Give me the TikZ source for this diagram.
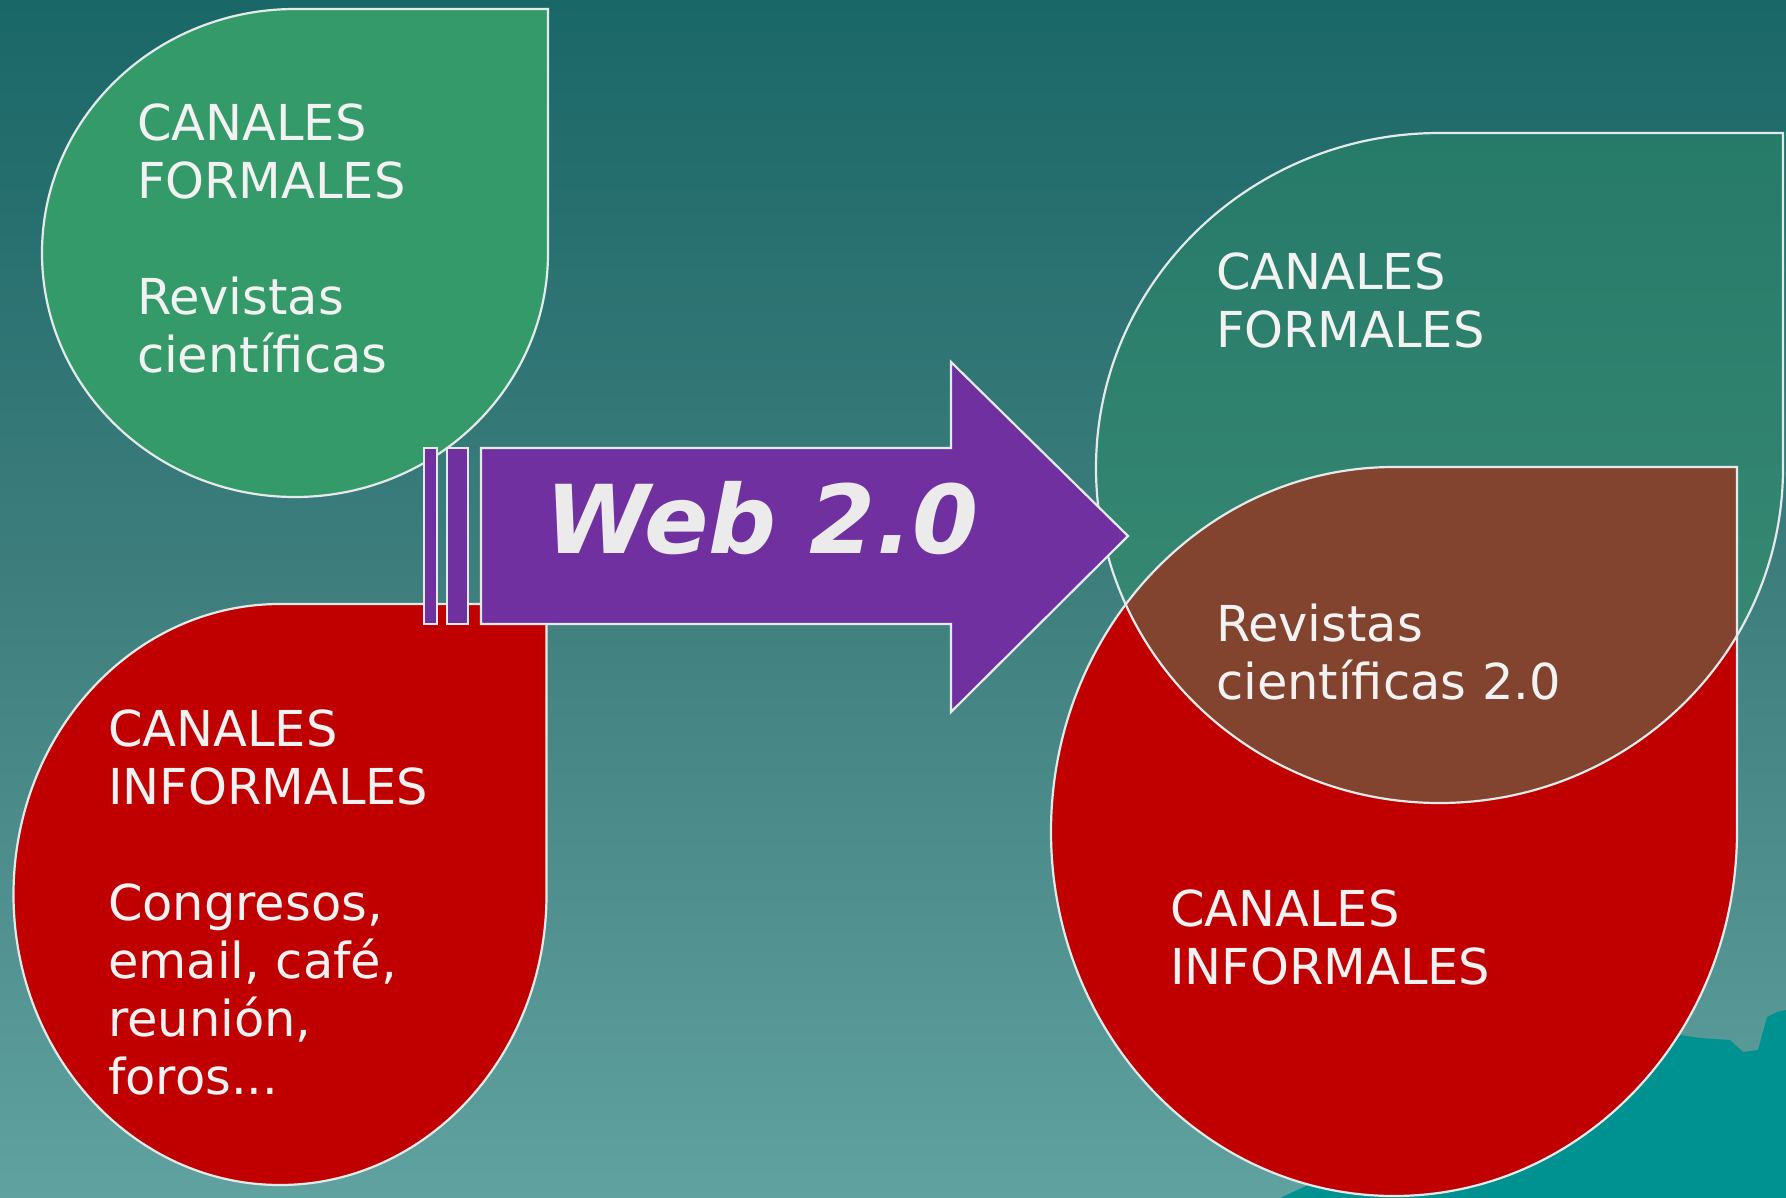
\documentclass[tikz,border=0pt]{standalone}
\usepackage{fontspec}
\setmainfont{DejaVu Sans}
\definecolor{bgtop}{HTML}{1A6767}
\definecolor{bgmid}{HTML}{3F7F7E}
\definecolor{bgbot}{HTML}{60A2A0}
\definecolor{greenL}{HTML}{359A69}
\definecolor{greenRt}{HTML}{267A68}
\definecolor{greenRb}{HTML}{3C8D76}
\definecolor{redc}{HTML}{C00000}
\definecolor{brownc}{HTML}{82432F}
\definecolor{purplec}{HTML}{7030A0}
\definecolor{outlc}{HTML}{E4EAEA}
\definecolor{txtc}{HTML}{F2F2F2}
\definecolor{webc}{HTML}{EBEBEB}
\definecolor{blobc}{HTML}{009290}
\newcommand{\tdrop}[4]{({#1},{#2-#4}) -- ({#1+#3},{#2-#4}) -- ({#1+#3},{#2}) arc[start angle=0,end angle=270,x radius=#3,y radius=#4] -- cycle}
\begin{document}
\begin{tikzpicture}[x=1pt,y=-1pt,
  outl/.style={draw=outlc,line width=2.2pt},
  lbl/.style={anchor=north west,inner sep=0pt,outer sep=0pt,align=left,text=txtc,font=\fontsize{49.5}{58}\selectfont},
  barbox/.style={fill=purplec,draw=outlc,line width=2.2pt}
]
% background
\useasboundingbox (0,0) rectangle (1786,1198);
\shade[top color=bgtop,bottom color=bgbot,middle color=bgmid] (0,0) rectangle (1786,1198);
% bottom-right blob
\fill[blobc] (1280,1198) -- (1450,1120) -- (1600,1050) -- (1680,1035) -- (1700,1038) -- (1730,1040) -- (1743,1052) -- (1758,1050) -- (1767,1017) -- (1777,1012) -- (1786,1010) -- (1786,1198) -- cycle;
% left shapes
\fill[greenL] \tdrop{295}{253}{253}{244};
\draw[outl] \tdrop{295}{253}{253}{244};
\fill[redc] \tdrop{280}{894.5}{266.5}{290.5};
\draw[outl] \tdrop{280}{894.5}{266.5}{290.5};
% right shapes
\shade[top color=greenRt,bottom color=greenRb] \tdrop{1439.5}{468}{343.5}{335};
\fill[redc] \tdrop{1394}{831.5}{343}{364.5};
\begin{scope}
  \clip \tdrop{1439.5}{468}{343.5}{335};
  \fill[brownc] \tdrop{1394}{831.5}{343}{364.5};
\end{scope}
\draw[outl] \tdrop{1439.5}{468}{343.5}{335};
\draw[outl] \tdrop{1394}{831.5}{343}{364.5};
% arrow
\path[barbox] (424,448) rectangle (437,624);
\path[barbox] (447,448) rectangle (468,624);
\path[barbox] (481,448) -- (951,448) -- (951,362) -- (1128,536) -- (951,712) -- (951,624) -- (481,624) -- cycle;
\node (web) [anchor=base,inner sep=0pt,text=webc,font=\fontsize{95}{105}\selectfont\bfseries\itshape] at (762,553) {Web 2.0};
% texts
\node (fl) [lbl] at (137,103.5) {CANALES\\FORMALES\\[58pt]Revistas\\científicas};
\node (il) [lbl] at (108,709.5) {CANALES\\INFORMALES\\[58pt]Congresos,\\email, café,\\reunión,\\foros...};
\node (fr) [lbl] at (1216,252.5) {CANALES\\FORMALES};
\node (br) [lbl] at (1216,604) {Revistas\\científicas 2.0};
\node (ir) [lbl] at (1170,889.5) {CANALES\\INFORMALES};
\end{tikzpicture}
\end{document}
